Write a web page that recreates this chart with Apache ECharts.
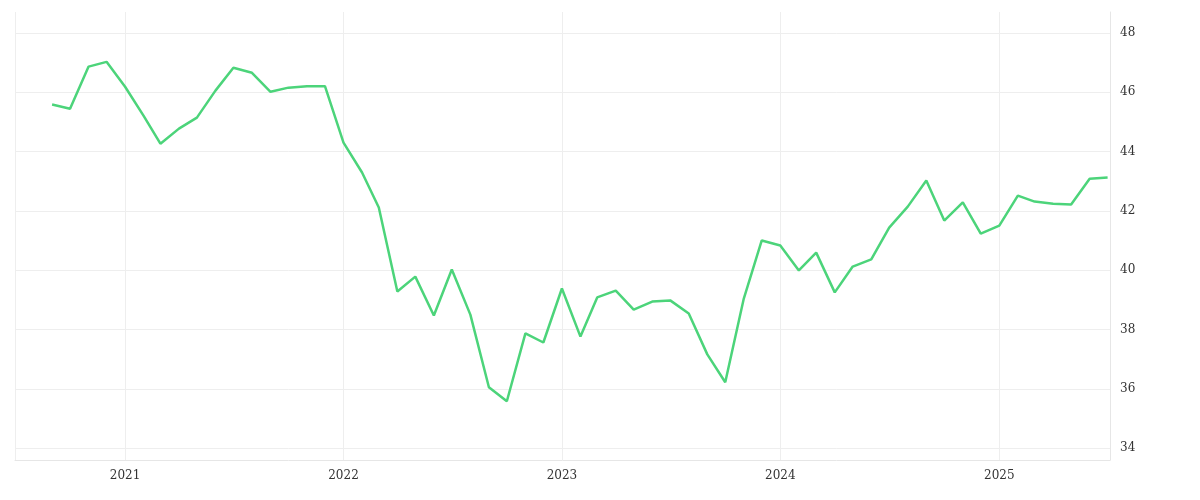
<!DOCTYPE html>
<html><head><meta charset="utf-8">
<script src="https://cdn.jsdelivr.net/npm/echarts@6/dist/echarts.min.js"></script>
<style>html,body{margin:0;padding:0;background:#fff}#c{width:1200px;height:500px}</style>
</head><body><div id="c"></div>
<script>
const startYear = 2020, startMonth = 9;
const values = [45.58,45.44,46.86,47.02,46.18,45.2,44.26,44.77,45.14,46.05,46.82,46.65,46.01,46.15,46.2,46.2,44.3,43.29,42.11,39.28,39.78,38.47,40.02,38.5,36.05,35.58,37.87,37.56,39.38,37.76,39.08,39.31,38.67,38.94,38.98,38.54,37.16,36.22,39.04,41.0,40.83,39.99,40.59,39.25,40.12,40.36,41.43,42.14,43.02,41.67,42.28,41.23,41.5,42.51,42.31,42.24,42.21,43.08,43.12];
const yTicks = [34,36,38,40,42,44,46,48];
const data = values.map((v,i)=>{const m=startMonth-1+i;return [Date.UTC(startYear+Math.floor(m/12), m%12, 1), v];});
const chart = echarts.init(document.getElementById('c'));
const font = 'DejaVu Serif';
chart.setOption({
  animation:false,
  grid:{left:15,right:90,top:12,bottom:40},
  xAxis:{type:'time',min:Date.UTC(2020,6,1),max:Date.UTC(2025,6,5),
    axisLine:{show:true,lineStyle:{color:'#e6e6e6'}},axisTick:{show:false},
    splitLine:{show:true,lineStyle:{color:'#eeeeee'}},
    axisLabel:{color:'#333',fontFamily:font,fontSize:12,margin:10,
      formatter:v=>{const d=new Date(v);return (d.getUTCMonth()===0&&d.getUTCDate()===1)?String(d.getUTCFullYear()):'';}},
    interval:365.25*24*3600*1000/12},
  yAxis:{type:'value',position:'right',min:33.6,max:48.7,
    axisLine:{show:true,lineStyle:{color:'#e6e6e6'}},
    axisTick:{show:false,customValues:yTicks},
    splitLine:{show:true,lineStyle:{color:'#eeeeee'}},
    axisLabel:{color:'#333',fontFamily:font,fontSize:12,margin:10,customValues:yTicks}},
  series:[{type:'line',data:data,showSymbol:false,lineStyle:{color:'#4cd47a',width:2.5},itemStyle:{color:'#4cd47a'}}]
});
</script></body></html>
